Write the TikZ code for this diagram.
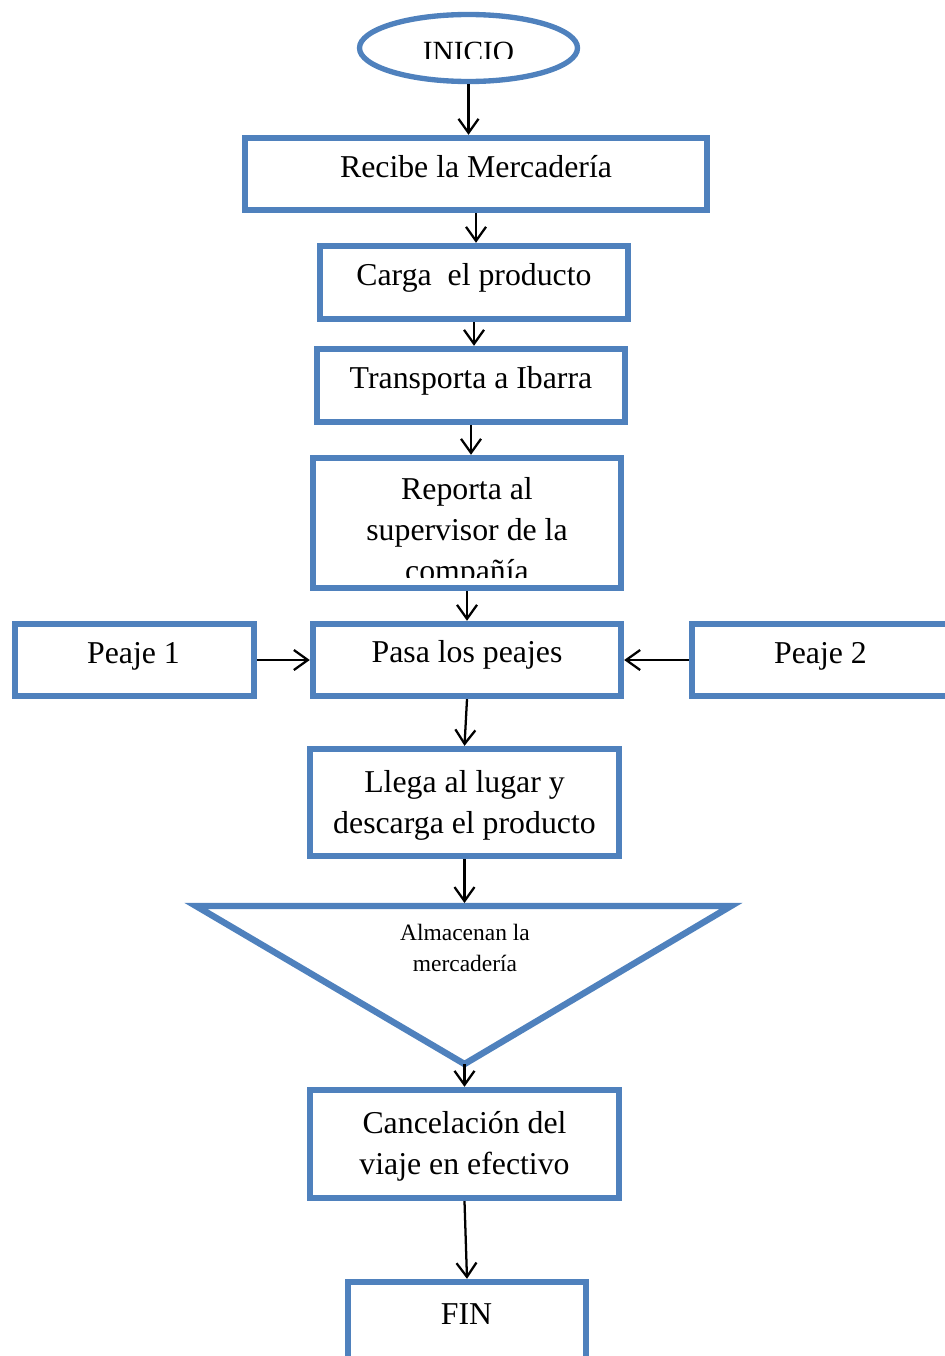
\documentclass[tikz,border=0pt]{standalone}
\usepackage{fontspec}
\setmainfont{Liberation Serif}
\usetikzlibrary{arrows.meta,shapes.geometric}
\definecolor{flowblue}{RGB}{79,129,189}
\begin{document}
\begin{tikzpicture}[x=0.75pt,y=-0.75pt,
  box/.style 2 args={draw=flowblue,line width=4.8pt,rectangle,inner sep=0pt,
    minimum width=#1*0.75pt,minimum height=#2*0.75pt},
  label/.style={font=\fontsize{23.85}{30}\selectfont,anchor=base,inner sep=0pt},
  small/.style={font=\fontsize{17.6}{22}\selectfont,anchor=base,inner sep=0pt},
  flow/.style={draw=black,line width=1.7pt,-{Straight Barb[length=10.5pt,width=15pt]}}]

\useasboundingbox (0,0) rectangle (945,1356);
\clip (0,0) rectangle (945,1356);

% start terminal
\node[draw=flowblue,line width=4pt,ellipse,inner sep=0pt,
      minimum width=218*0.75pt,minimum height=67*0.75pt] (ini) at (468.5,48) {};
\begin{scope}
  \clip (400,25) rectangle (540,58);
  \node[label,font=\fontsize{22}{28}\selectfont] (tini) at (468.5,61.5) {INICIO};
\end{scope}

% process boxes
\node[box={462}{72}]  (rec) at (476,174) {};
\node[box={308}{73}]  (car) at (474,282.5) {};
\node[box={308}{73}]  (tra) at (471,385.5) {};
\node[box={308}{130}] (rep) at (467,523) {};
\node[box={308}{72}]  (pas) at (467,660) {};
\node[box={239}{72}]  (pa1) at (134.5,660) {};
\node[box={256}{72}]  (pa2) at (820,660) {};
\node[box={309}{107}] (lle) at (464.5,802.5) {};
\node[box={309}{108}] (can) at (464.5,1144) {};
\node[box={238}{86}]  (fin) at (467,1325) {};

% storage triangle
\coordinate (tl) at (196,906);
\coordinate (tr) at (731,906);
\coordinate (triapex) at (464.5,1064);
\coordinate (tritop) at (464.5,903);
\draw[flowblue,line width=4.8pt] (tl) -- (tr) -- (triapex) -- cycle;

% labels
\node[label] (trec) at (476,177) {Recibe la Mercadería};
\node[label] (tcar) at (474,285) {Carga\ \ el producto};
\node[label] (ttra) at (471,388) {Transporta a Ibarra};
\node[label] (trep1) at (467,499) {Reporta al};
\node[label] (trep2) at (467,540) {supervisor de la};
\begin{scope}
  \clip (313,458) rectangle (621,577);
  \node[label] (trep3) at (467,581) {compañía};
\end{scope}
\node[label] (tpas) at (467,662) {Pasa los peajes};
\node[label] (tpa1) at (133.5,663) {Peaje 1};
\node[label] (tpa2) at (820.5,663) {Peaje 2};
\node[label] (tlle1) at (464.5,792) {Llega al lugar y};
\node[label] (tlle2) at (464.5,833) {descarga el producto};
\node[small] (talm1) at (465,940) {Almacenan la};
\node[small] (talm2) at (465,971) {mercadería};
\node[label] (tcan1) at (464.5,1133) {Cancelación del};
\node[label] (tcan2) at (464.5,1174) {viaje en efectivo};
\node[label] (tfin) at (466.5,1324) {FIN};

% connectors
\draw[flow] (ini.south) -- (ini.south |- rec.north);
\draw[flow] (rec.south) -- (rec.south |- car.north);
\draw[flow] (car.south) -- (car.south |- tra.north);
\draw[flow] (tra.south) -- (tra.south |- rep.north);
\draw[flow] (rep.south) -- (pas.north);
\draw[flow] (pa1.east) -- (pas.west);
\draw[flow] (pa2.west) -- (pas.east);
\draw[flow] (pas.south) -- (lle.north);
\draw[flow] (lle.south) -- (tritop);
\draw[flow] (triapex) -- (can.north);
\draw[flow] (can.south) -- (fin.north);
\end{tikzpicture}
\end{document}
